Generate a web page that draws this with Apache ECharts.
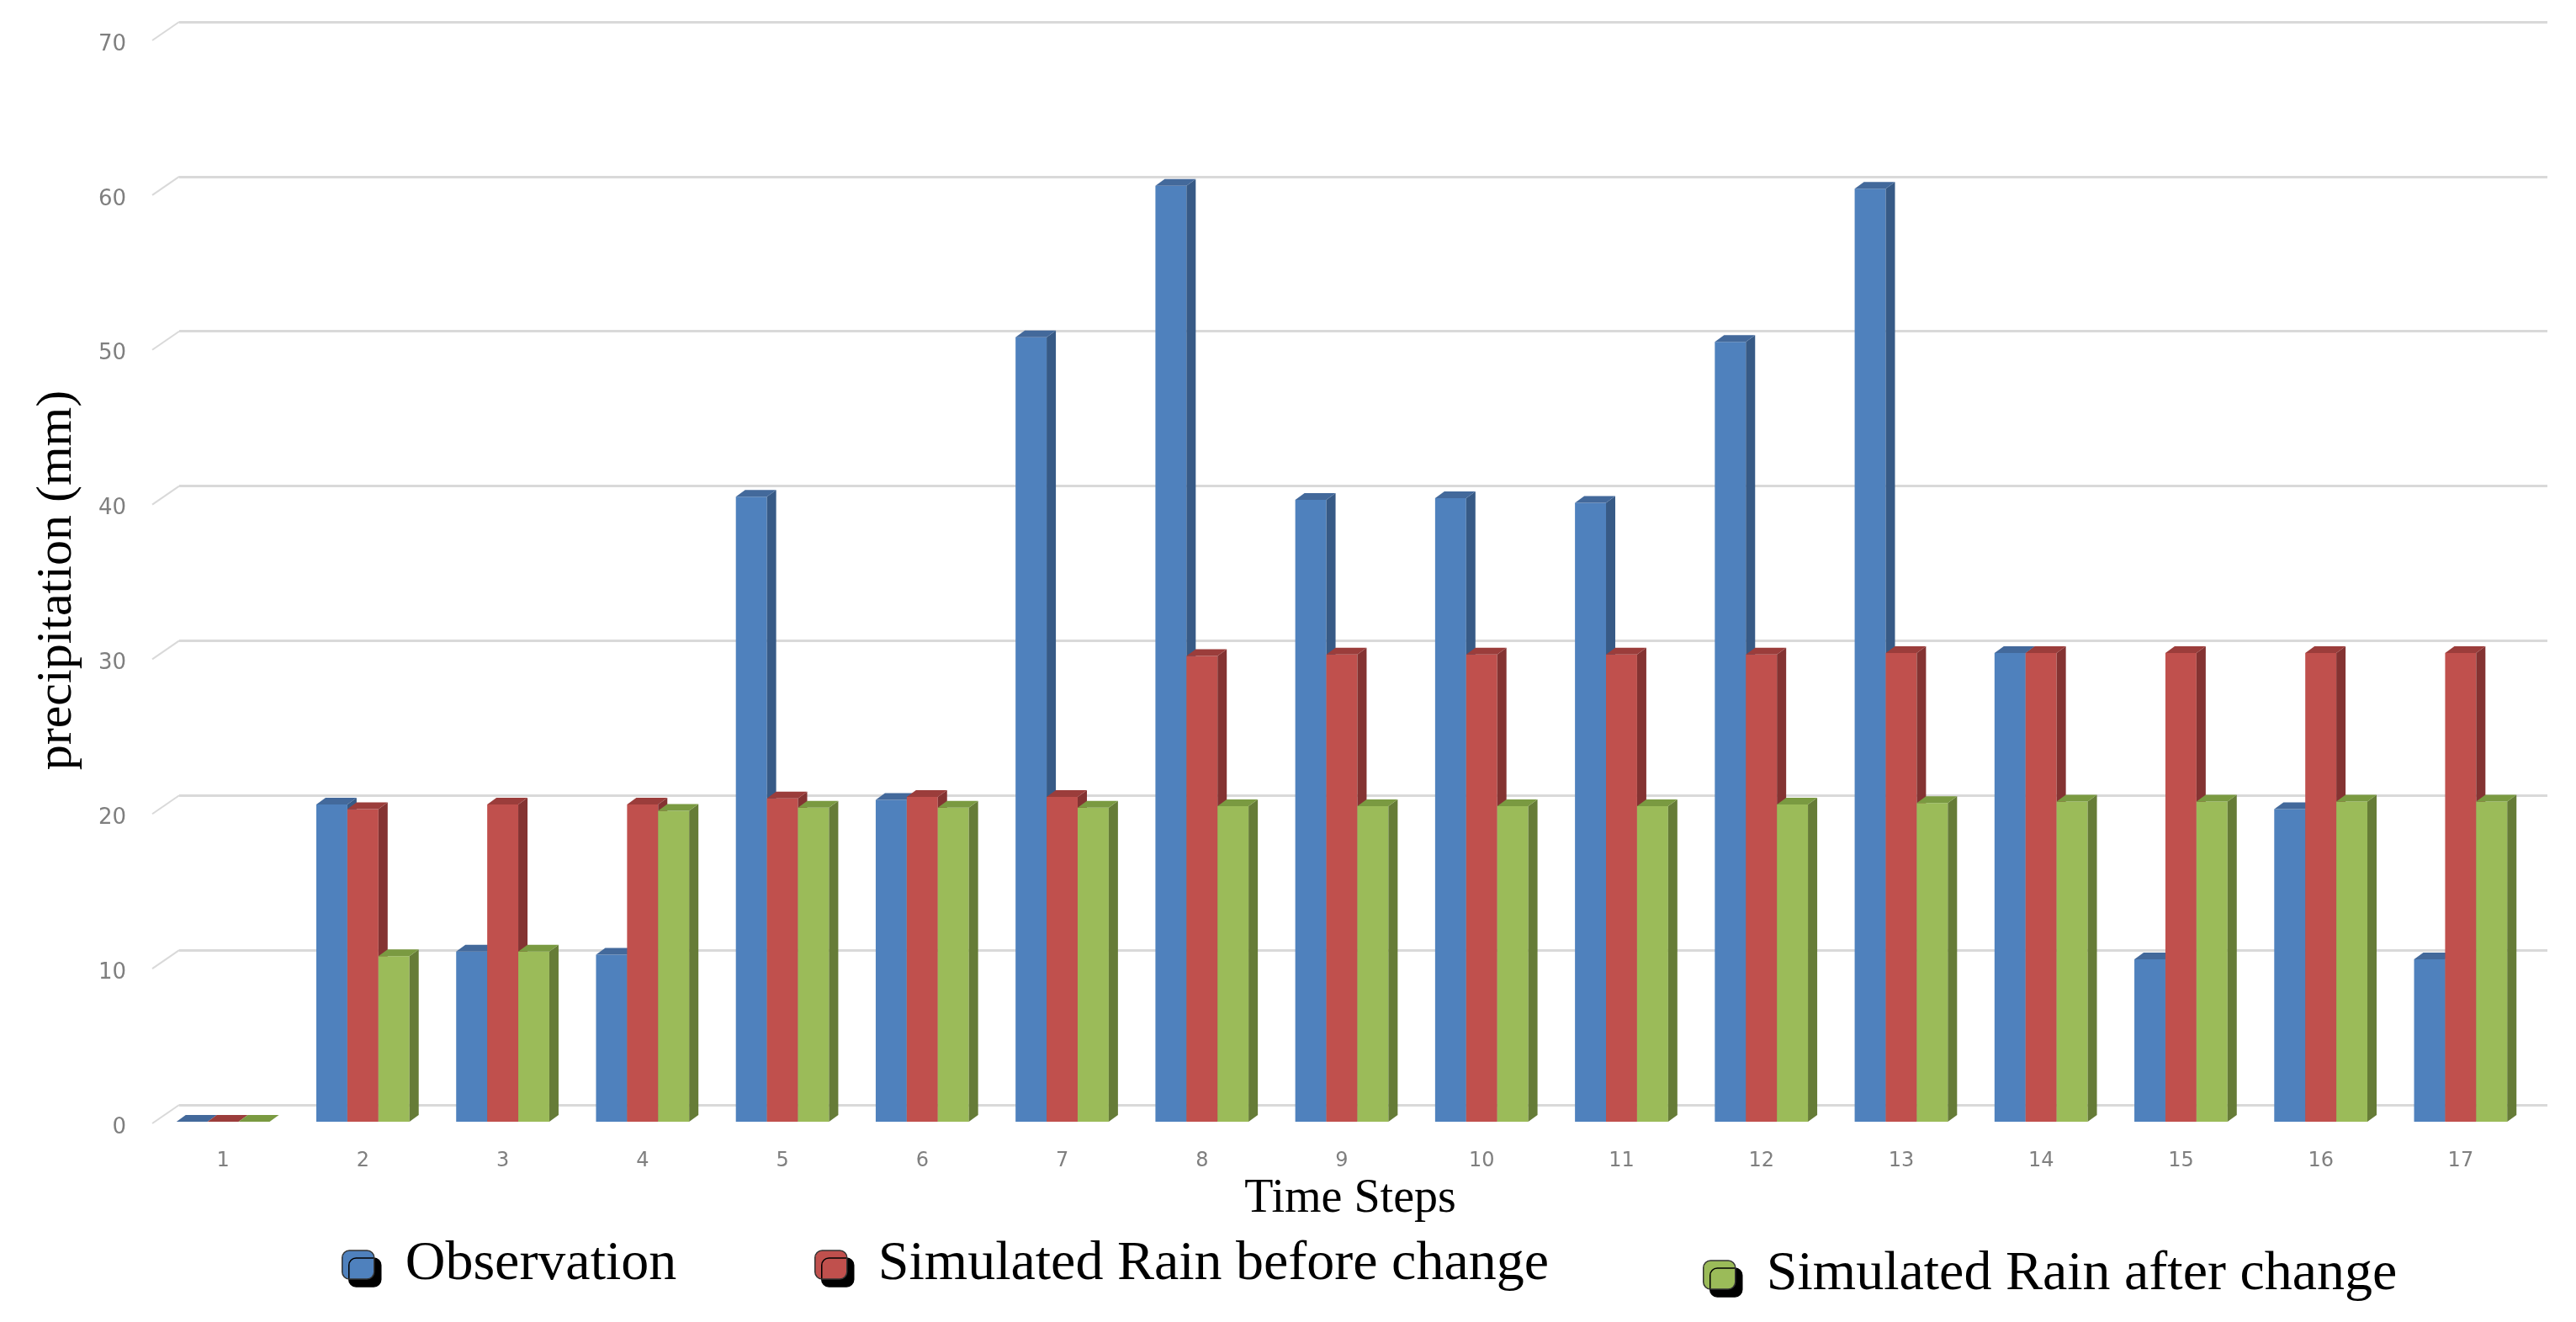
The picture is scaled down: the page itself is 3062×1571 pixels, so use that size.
<!DOCTYPE html>
<html>
<head>
    <meta charset="utf-8">
    <title>precipitation</title>
    <style>
        html, body { margin: 0; padding: 0; background: #fff; }
        #main { width: 3062px; height: 1571px; }
    </style>
</head>
<body>
    <div id="main"></div>
    <script src="https://cdn.jsdelivr.net/npm/echarts@6/dist/echarts.min.js"></script>
    <script>
        // data
        var timeSteps = ['1', '2', '3', '4', '5', '6', '7', '8', '9', '10', '11', '12', '13', '14', '15', '16', '17'];
        var yTicks = [0, 10, 20, 30, 40, 50, 60, 70];
        var observation = [0, 20.5, 11.0, 10.8, 40.4, 20.8, 50.7, 60.5, 40.2, 40.3, 40.0, 50.4, 60.3, 30.3, 10.5, 20.2, 10.5];
        var rainBefore = [0, 20.2, 20.5, 20.5, 20.9, 21.0, 21.0, 30.1, 30.2, 30.2, 30.2, 30.2, 30.3, 30.3, 30.3, 30.3, 30.3];
        var rainAfter = [0, 10.7, 11.0, 20.1, 20.3, 20.3, 20.3, 20.4, 20.4, 20.4, 20.4, 20.5, 20.6, 20.7, 20.7, 20.7, 20.7];

        var chart = echarts.init(document.getElementById('main'));

        var labelColor = '#7f7f7f';
        var gridColor = '#d9d9d9';

        // excel style 3d column: front face + side + top
        function bar3d(idx, sideColor, topColor) {
            return function (params, api) {
                var cat = api.value(0);
                var val = api.value(1);
                var band = api.size([1, 0])[0];
                var p0 = api.coord([cat, 0]);
                var p1 = api.coord([cat, val]);
                var w = band * 0.222;
                var x0 = p0[0] - 1.5 * w + idx * w;
                var x1 = x0 + w;
                var dx = 11, dy = 8;
                return {
                    type: 'group',
                    children: [
                        {
                            type: 'rect',
                            shape: { x: x0, y: p1[1], width: w, height: p0[1] - p1[1] },
                            style: { fill: api.visual('color') }
                        },
                        {
                            type: 'polygon',
                            shape: { points: [[x1, p1[1]], [x1 + dx, p1[1] - dy], [x1 + dx, p0[1] - dy], [x1, p0[1]]] },
                            style: { fill: sideColor }
                        },
                        {
                            type: 'polygon',
                            shape: { points: [[x0, p1[1]], [x0 + dx, p1[1] - dy], [x1 + dx, p1[1] - dy], [x1, p1[1]]] },
                            style: { fill: topColor }
                        }
                    ]
                };
            };
        }

        // short slanted lines joining the labels to the back wall
        function wallEdge(params, api) {
            var p = api.coord([0, api.value(0)]);
            var x = params.coordSys.x;
            return {
                type: 'line',
                shape: { x1: x, y1: p[1], x2: x - 32, y2: p[1] + 22 },
                style: { stroke: gridColor, lineWidth: 2 }
            };
        }

        function pairs(arr) {
            return arr.map(function (v, i) { return [i, v]; });
        }

        function legendItem(name, left, top) {
            return {
                data: [name],
                left: left,
                top: top,
                padding: 0,
                icon: 'roundRect',
                itemWidth: 38,
                itemHeight: 34,
                selectedMode: false,
                itemStyle: {
                    borderColor: '#333',
                    borderWidth: 1.5,
                    shadowColor: '#000',
                    shadowBlur: 0,
                    shadowOffsetX: 8,
                    shadowOffsetY: 9
                },
                textStyle: {
                    fontFamily: 'Liberation Serif',
                    fontSize: 66,
                    color: '#000',
                    padding: [0, 0, 0, 32]
                }
            };
        }

        var option = {
            backgroundColor: '#fff',
            animation: false,
            grid: [
                { left: 182, right: 54, top: 46, bottom: 238 },
                { left: 213, right: 34, top: 26, bottom: 258 }
            ],
            legend: [
                legendItem('Observation', 406, 1470),
                legendItem('Simulated Rain before change', 968, 1470),
                legendItem('Simulated Rain after change', 2024, 1482)
            ],
            xAxis: [
                {
                    type: 'category',
                    gridIndex: 0,
                    data: timeSteps,
                    axisLine: { show: false },
                    axisTick: { show: false },
                    axisLabel: {
                        margin: 35,
                        fontFamily: 'DejaVu Sans',
                        fontSize: 24,
                        color: labelColor
                    },
                    name: 'Time Steps',
                    nameLocation: 'middle',
                    nameGap: 58,
                    nameTextStyle: {
                        fontFamily: 'Liberation Serif',
                        fontSize: 56,
                        color: '#000',
                        padding: [0, 0, 0, 20]
                    }
                },
                {
                    type: 'category',
                    gridIndex: 1,
                    data: timeSteps,
                    show: false
                }
            ],
            yAxis: [
                {
                    type: 'value',
                    gridIndex: 0,
                    min: 0,
                    max: 70,
                    interval: 10,
                    axisLine: { show: false },
                    axisTick: { show: false },
                    splitLine: { show: false },
                    axisLabel: {
                        margin: 32,
                        fontFamily: 'DejaVu Sans',
                        fontSize: 26,
                        color: labelColor,
                        verticalAlign: 'top',
                        padding: [-6, 0, 0, 0]
                    },
                    name: 'precipitation (mm)',
                    nameLocation: 'middle',
                    nameGap: 84,
                    nameTextStyle: {
                        fontFamily: 'Liberation Serif',
                        fontSize: 60,
                        color: '#000'
                    }
                },
                {
                    type: 'value',
                    gridIndex: 1,
                    min: 0,
                    max: 70,
                    interval: 10,
                    axisLine: { show: false },
                    axisTick: { show: false },
                    axisLabel: { show: false },
                    splitLine: { lineStyle: { color: gridColor, width: 3 } }
                }
            ],
            series: [
                {
                    type: 'custom',
                    xAxisIndex: 1,
                    yAxisIndex: 1,
                    silent: true,
                    renderItem: wallEdge,
                    encode: { y: 0 },
                    data: yTicks.map(function (v) { return [v]; })
                },
                {
                    name: 'Observation',
                    type: 'custom',
                    renderItem: bar3d(0, '#375a86', '#43699b'),
                    itemStyle: { color: '#4f81bd' },
                    encode: { x: 0, y: 1 },
                    data: pairs(observation)
                },
                {
                    name: 'Simulated Rain before change',
                    type: 'custom',
                    renderItem: bar3d(1, '#843332', '#9b3d3b'),
                    itemStyle: { color: '#c0504d' },
                    encode: { x: 0, y: 1 },
                    data: pairs(rainBefore)
                },
                {
                    name: 'Simulated Rain after change',
                    type: 'custom',
                    renderItem: bar3d(2, '#667c37', '#7a9a41'),
                    itemStyle: { color: '#9bbb59' },
                    encode: { x: 0, y: 1 },
                    data: pairs(rainAfter)
                }
            ]
        };

        chart.setOption(option);
    </script>
</body>
</html>
